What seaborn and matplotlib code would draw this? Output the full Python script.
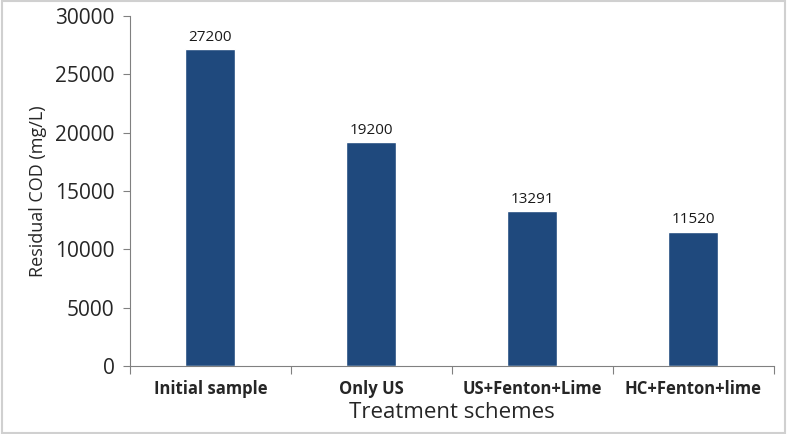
import matplotlib
matplotlib.use('Agg')
import matplotlib.pyplot as plt
import seaborn as sns
import pandas as pd
import numpy as np

# Data
schemes = ['Initial sample', 'Only US', 'US+Fenton+Lime', 'HC+Fenton+lime']
cod = [27200, 19200, 13291, 11520]

df = pd.DataFrame({'Treatment schemes': schemes, 'Residual COD (mg/L)': cod})

sns.set_style('white')
plt.rcParams['font.family'] = ['Open Sans', 'DejaVu Sans']

fig = plt.figure(figsize=(7.87, 4.34), dpi=100)
ax = fig.add_axes([0.165, 0.157, 0.818, 0.806])

sns.barplot(data=df, x='Treatment schemes', y='Residual COD (mg/L)',
            color='#1f497d', saturation=1, width=0.31, ax=ax)

for c in ax.containers:
    ax.bar_label(c, labels=[str(v) for v in cod], padding=3, fontsize=11, color='#1a1a1a')

ax.set_xlim(-0.5, 3.5)
ax.set_ylim(0, 30000)
ax.set_yticks(np.arange(0, 30001, 5000))
ax.tick_params(axis='y', labelsize=15, length=5, width=0.8, color='#808080', left=True, pad=6)

# category boundary ticks on x axis
ax.set_xticks(np.arange(-0.5, 4, 1), minor=True)
ax.tick_params(axis='x', which='minor', length=6, width=0.8, color='#808080', bottom=True)
ax.tick_params(axis='x', which='major', length=0, pad=10)
for lab in ax.get_xticklabels():
    lab.set_fontweight('bold')
    lab.set_fontsize(12)

ax.set_xlabel('Treatment schemes', fontsize=16, labelpad=3)
ax.set_ylabel('Residual COD (mg/L)', fontsize=13, labelpad=6)

sns.despine(ax=ax, top=True, right=True)
ax.spines['left'].set_color('#808080')
ax.spines['bottom'].set_color('#808080')

# light frame around the figure
fig.patches.append(plt.Rectangle((0.002, 0.003), 0.996, 0.994, transform=fig.transFigure,
                                 fill=False, edgecolor='#d0d0d0', linewidth=1.5))

fig.savefig('out.png', dpi=100)
